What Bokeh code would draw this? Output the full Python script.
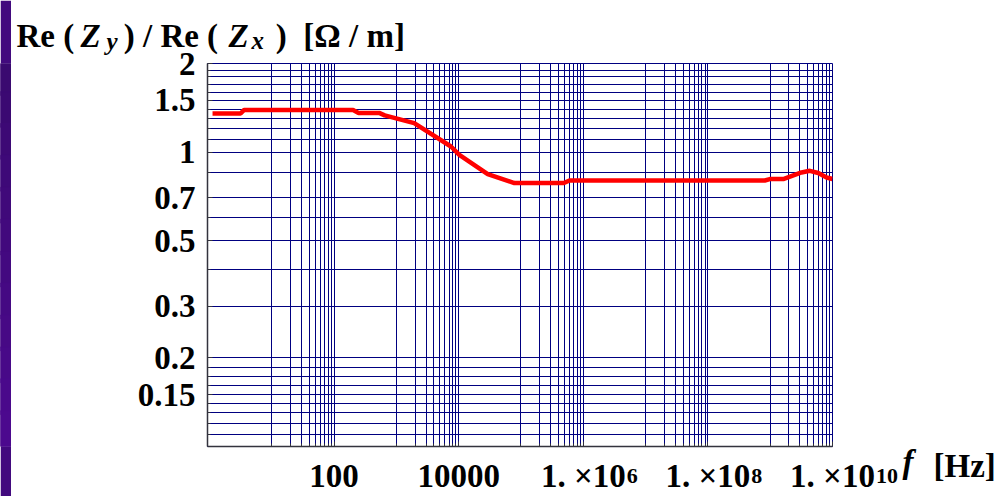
import math
import numpy as np
from bokeh.plotting import figure
from bokeh.models import FixedTicker, Range1d, Label
from bokeh.layouts import row
from bokeh.embed import file_html
from bokeh.resources import INLINE

# ---- data ----
freq_hz = [1.12, 3.16, 3.57, 202, 247, 528, 650, 1932, 7516, 10240, 29240,
           78330, 487500, 600000, 8.19e8, 9.86e8, 1.62e9, 3.18e9, 4.33e9,
           5.91e9, 8.04e9, 1.0e10]
ratio = [1.352, 1.352, 1.389, 1.389, 1.359, 1.359, 1.333, 1.254, 1.045, 0.979,
         0.842, 0.785, 0.785, 0.801, 0.801, 0.810, 0.810, 0.853, 0.864, 0.849,
         0.820, 0.810]

y_tick_values = [0.15, 0.2, 0.3, 0.5, 0.7, 1, 1.5, 2]
y_tick_labels = ["0.15", "0.2", "0.3", "0.5", "0.7", "1", "1.5", "2"]
x_tick_values = [1e2, 1e4, 1e6, 1e8, 1e10]
x_tick_mantissa = ["100", "10000", "1. \u00d710", "1. \u00d710", "1. \u00d710"]
x_tick_exponent = ["", "", "6", "8", "10"]

FONT = "Liberation Serif"
NB = "\u00a0"

# ---- grid line positions (styling) ----
x_minor = [m * 10.0 ** d for d in (1, 3, 5, 7, 9) for m in range(1, 10)]
y_minor = [0.11, 0.12, 0.13, 0.14, 0.1612, 0.1733, 0.1862, 0.4, 0.6, 0.85,
           1.1, 1.2, 1.3, 1.4, 1.6, 1.7, 1.8, 1.9]

X0, X1 = 0.93, 1e10
Y0, Y1 = 0.1, 2.0
W, H = 999, 496
STRIP_W = 11
FRAME_L, FRAME_R, FRAME_T, FRAME_B = 207, 832, 63, 448
dec_px = (FRAME_R - FRAME_L) / (math.log10(X1) - math.log10(X0))

# ---- left purple strip ----
strip = figure(width=STRIP_W, height=H, x_range=Range1d(0, 1), y_range=Range1d(0, 1),
               toolbar_location=None, output_backend="svg", min_border=0,
               x_axis_location=None, y_axis_location=None,
               outline_line_color=None, background_fill_color="#420a7e",
               border_fill_color="#420a7e")
strip.grid.visible = False
n = 12
c_top = np.array([0x3a, 0x0a, 0x70])
c_bot = np.array([0x4c, 0x09, 0x8e])
tops, bots, cols = [], [], []
for i in range(n):
    t = i / (n - 1)
    cols.append("#%02x%02x%02x" % tuple((c_top * (1 - t) + c_bot * t).astype(int)))
    tops.append(1 - i / n + 0.01)
    bots.append(1 - (i + 1) / n)
strip.quad(left=0, right=1, top=tops, bottom=bots, fill_color=cols, line_color=cols)

# ---- main plot ----
p = figure(width=W - STRIP_W, height=H, x_axis_type="log", y_axis_type="log",
           x_range=Range1d(X0, X1), y_range=Range1d(Y0, Y1),
           toolbar_location=None, output_backend="svg",
           min_border_left=FRAME_L - STRIP_W, min_border_right=W - FRAME_R,
           min_border_top=FRAME_T, min_border_bottom=H - FRAME_B,
           background_fill_color="white", border_fill_color="white",
           outline_line_color="#000080", outline_line_width=1)

p.xaxis.ticker = FixedTicker(ticks=x_tick_values, minor_ticks=x_minor)
p.yaxis.ticker = FixedTicker(ticks=y_tick_values, minor_ticks=y_minor)

grid_col = "#000080"
for g in (p.xgrid, p.ygrid):
    g.grid_line_color = grid_col
    g.grid_line_width = 1
    g.minor_grid_line_color = grid_col
    g.minor_grid_line_width = 1

for ax in (p.xaxis, p.yaxis):
    ax.axis_line_color = "#33333d"
    ax.axis_line_width = 1.5
    ax.major_tick_in = 5
    ax.major_tick_out = 0
    ax.minor_tick_in = 3
    ax.minor_tick_out = 0
    ax.major_tick_line_color = "#33333d"
    ax.minor_tick_line_color = "#33333d"
    ax.major_label_text_font = FONT
    ax.major_label_text_font_style = "bold"
    ax.major_label_text_font_size = "33px"
    ax.major_label_text_color = "black"

p.xaxis.major_label_overrides = dict(zip(x_tick_values, x_tick_mantissa))
p.xaxis.major_label_standoff = 11
p.yaxis.major_label_overrides = dict(zip(y_tick_values, y_tick_labels))
p.yaxis.major_label_standoff = 12

p.line(freq_hz, ratio, line_color="#ff0000", line_width=4.5)


# ---- texts outside the frame: Labels in canvas units, placed in side panels ----
def add_text(text, px, py, size, style, side):
    p.add_layout(Label(x=px - STRIP_W, y=py, x_units="canvas", y_units="canvas",
                       text=text, text_font=FONT, text_font_size=f"{size}px",
                       text_font_style=style, text_color="black",
                       text_align="left", text_baseline="alphabetic"), side)


# title: upright bold part in one label (gaps left for the italic Z's), then italic parts
title_main = ("Re (" + NB * 6 + ") / Re (" + NB * 7 + ")" + NB * 2 + "[\u03a9 / m]")
add_text(title_main, 16, 35, 33, "bold", "above")
add_text("Z", 80, 35, 33, "bold italic", "left")
add_text("Z", 228, 35, 33, "bold italic", "left")
add_text("y", 106, 41, 25, "bold italic", "right")
add_text("x", 251, 40, 25, "bold italic", "right")

# exponents of the x tick labels, just right of the centred mantissa
MANT_HALF_W = 42.4
exp_sides = ["left", "left", "right"]
k = 0
for v, ex in zip(x_tick_values, x_tick_exponent):
    if ex:
        tx = FRAME_L + (math.log10(v) - math.log10(X0)) * dec_px
        add_text(ex, tx + MANT_HALF_W + 1, 475, 22, "bold", exp_sides[k])
        k += 1

# x axis title
add_text("f", 902, 461, 33, "bold italic", "right")
add_text("[Hz]", 933, 465, 33, "bold", "right")

layout = row(strip, p, spacing=0)
open("out.html", "w").write(file_html(layout, INLINE))
